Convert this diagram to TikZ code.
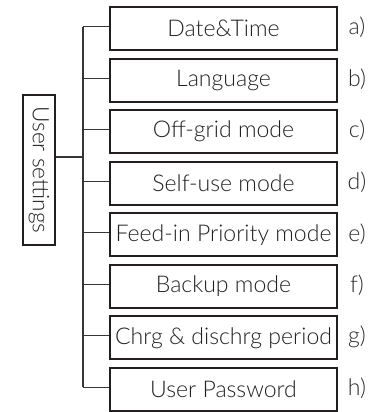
\documentclass[tikz,border=0pt]{standalone}
\usepackage{fontspec}
\setmainfont{Lato}[UprightFont=* Light]
\definecolor{boxline}{RGB}{35,31,32}
\definecolor{labelgray}{RGB}{45,42,43}
\def\menux{223.5}
\def\menuy{28.5}
\def\menudy{51.57}
\def\trunkx{83}
\newcommand{\menuY}[1]{\menuy+(#1-1)*\menudy}

\tikzset{
  menubox/.style={draw=boxline,line width=1.5pt,minimum width=227*0.75pt,minimum height=43*0.75pt,inner sep=0pt,font=\fontsize{17.3}{19}\selectfont,text=boxline},
  rootbox/.style={draw=boxline,line width=1pt,rotate=-90,minimum width=150*0.75pt,minimum height=32*0.75pt,inner sep=0pt,font=\fontsize{17}{19}\selectfont,text=boxline},
  itemlabel/.style={font=\fontsize{17.3}{19}\selectfont,text=labelgray,anchor=center},
  branch/.style={draw=boxline!90,line width=0.8pt}
}

\begin{document}
\begin{tikzpicture}[x=0.75pt,y=-0.75pt]
  \useasboundingbox (0,0) rectangle (376,412);
  \def\items{Date\&Time/a, Language/b, Off-grid mode/c, Self-use mode/d, Feed-in Priority mode/e, Backup mode/f, Chrg \& dischrg period/g, User Password/h}
  \node[rootbox] (user) at (39,170) {User settings};
  \foreach \t/\l [count=\n] in \items {
    \node[menubox] (item\n) at (\menux,{\menuY{\n}}) {\t};
    \node[itemlabel] (lbl\n) at (357,{\menuY{\n}-1}) {\l)};
    \coordinate (j\n) at (\trunkx,{\menuY{\n}-2});
    \draw[branch] (j\n) -- (j\n -| item\n.west);
  }
  \draw[branch] (j1) -- (j8);
  \draw[branch] ([yshift=9.75pt]user.north) -- ([yshift=9.75pt]user.north -| j1);
\end{tikzpicture}
\end{document}
